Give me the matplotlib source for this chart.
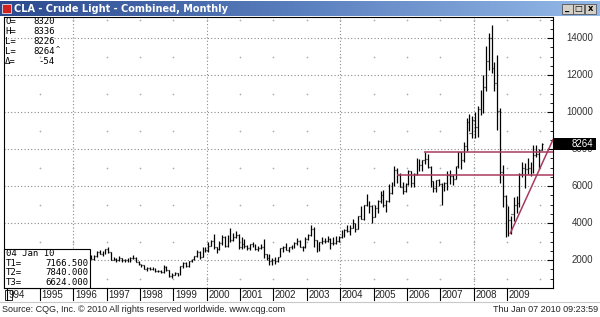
import matplotlib.pyplot as plt
import matplotlib.patches as patches
import numpy as np
import pandas as pd

# monthly OHLC, CLA continuation (price x100), Jan 1996 - Jan 2010
opens = [
    1955, 1774, 1954, 2147, 2120, 1976, 2092, 2042, 2225, 2438, 2335, 2375,
    2592, 2415, 2030, 2041, 2021, 2088, 1980, 2014, 1961, 2118, 2108, 1915,
    1764, 1721, 1544, 1561, 1539, 1520, 1418, 1421, 1334, 1614, 1442, 1122,
    1205, 1275, 1227, 1676, 1866, 1684, 1929, 2053, 2210, 2451, 2175, 2459,
    2560, 2764, 3043, 2690, 2574, 2901, 3250, 2743, 3312, 3084, 3270, 3382,
    2680, 2866, 2739, 2629, 2846, 2837, 2625, 2635, 2681, 2343, 2118, 1944,
    1984, 1948, 2174, 2631, 2729, 2531, 2686, 2702, 2898, 3045, 2722, 2689,
    3120, 3351, 3660, 3104, 2580, 2956, 3019, 3054, 3157, 2920, 2911, 3041,
    3252, 3305, 3616, 3576, 3738, 3988, 3705, 4380, 4212, 4964, 5176, 4913,
    4345, 4820, 5175, 5540, 4972, 5197, 5650, 6057, 6894, 6624, 5976, 5732,
    6104, 6792, 6141, 6663, 7188, 7129, 7393, 7440, 7026, 6291, 5873, 6313,
    6105, 5814, 6179, 6587, 6571, 6401, 7068, 7821, 7404, 8166, 9453, 8871,
    9598, 9175, 10184, 10158, 11346, 12735, 14000, 12408, 11546, 10064, 6781, 5443,
    4460, 4168, 4476, 4966, 5112, 6631, 6989, 6945, 6996, 7061, 7700, 7728,
    7936]
highs = [
    2010, 1990, 2250, 2540, 2290, 2150, 2290, 2270, 2480, 2555, 2485, 2600,
    2680, 2440, 2140, 2095, 2210, 2110, 2050, 2090, 2150, 2290, 2140, 1950,
    1800, 1760, 1640, 1650, 1600, 1560, 1480, 1440, 1720, 1680, 1490, 1310,
    1350, 1300, 1690, 1900, 1910, 1960, 2080, 2240, 2530, 2500, 2700, 2710,
    3000, 3110, 3420, 2730, 3050, 3340, 3280, 3350, 3740, 3440, 3560, 3400,
    3260, 3140, 2800, 2890, 2990, 2890, 2760, 2860, 3150, 2350, 2320, 2120,
    2140, 2190, 2650, 2765, 2930, 2700, 2810, 2990, 3200, 3060, 2760, 3230,
    3430, 3915, 3800, 3100, 2950, 3230, 3210, 3280, 3170, 3250, 3300, 3310,
    3630, 3690, 3900, 3900, 4238, 4000, 4400, 4940, 5000, 5545, 5200, 4990,
    4960, 5260, 5760, 5810, 5270, 6095, 6240, 7080, 6990, 6690, 6200, 6190,
    6895, 6820, 6700, 7500, 7440, 7430, 7830, 7735, 7090, 6280, 6320, 6372,
    6150, 6230, 6830, 6850, 6620, 7070, 7830, 7860, 8390, 9680, 9915, 9800,
    10000, 10320, 11172, 11993, 13582, 14300, 14727, 12700, 13092, 10240, 7150, 5500,
    4930, 4390, 5400, 5480, 6690, 7300, 7250, 7500, 7300, 8200, 8210, 8000,
    8336]
lows = [
    1730, 1760, 1900, 2110, 1870, 1900, 2040, 2030, 2180, 2330, 2240, 2330,
    2380, 2000, 1990, 1900, 1970, 1870, 1920, 1920, 1920, 2050, 1900, 1760,
    1620, 1530, 1400, 1470, 1450, 1330, 1380, 1280, 1320, 1420, 1080, 1040,
    1170, 1140, 1200, 1580, 1640, 1650, 1890, 1980, 2140, 2060, 2150, 2410,
    2440, 2740, 2610, 2400, 2540, 2820, 2730, 2700, 3000, 3010, 3210, 2580,
    2620, 2650, 2520, 2540, 2690, 2560, 2500, 2620, 2130, 2000, 1750, 1760,
    1800, 1890, 2140, 2430, 2530, 2460, 2600, 2650, 2840, 2690, 2500, 2650,
    3060, 3280, 2720, 2460, 2480, 2860, 2930, 3000, 2600, 2830, 2880, 2950,
    3200, 3250, 3500, 3370, 3740, 3540, 3690, 4210, 4190, 4940, 4520, 4020,
    4320, 4530, 5110, 4890, 4625, 5150, 5580, 6010, 6190, 5930, 5570, 5700,
    6050, 5930, 5950, 6580, 6810, 6840, 7200, 6990, 5950, 5655, 5700, 5993,
    4995, 5710, 5810, 6100, 6080, 6400, 6980, 6900, 7300, 7910, 8970, 8600,
    8611, 8670, 9842, 9940, 11120, 12280, 12116, 11154, 9040, 6160, 4876, 3240,
    3320, 3420, 4120, 4530, 4880, 6500, 5905, 6670, 6570, 6730, 7560, 6950,
    7930]
closes = [
    1774, 1954, 2147, 2120, 1976, 2092, 2042, 2225, 2438, 2335, 2375, 2592,
    2415, 2030, 2041, 2021, 2088, 1980, 2014, 1961, 2118, 2108, 1915, 1764,
    1721, 1544, 1561, 1539, 1520, 1418, 1421, 1334, 1614, 1442, 1122, 1205,
    1275, 1227, 1676, 1866, 1684, 1929, 2053, 2210, 2451, 2175, 2459, 2560,
    2764, 3043, 2690, 2574, 2901, 3250, 2743, 3312, 3084, 3270, 3382, 2680,
    2866, 2739, 2629, 2846, 2837, 2625, 2635, 2681, 2343, 2118, 1944, 1984,
    1948, 2174, 2631, 2729, 2531, 2686, 2702, 2898, 3045, 2722, 2689, 3120,
    3351, 3660, 3104, 2580, 2956, 3019, 3054, 3157, 2920, 2911, 3041, 3252,
    3305, 3616, 3576, 3738, 3988, 3705, 4380, 4212, 4964, 5176, 4913, 4345,
    4820, 5175, 5540, 4972, 5197, 5650, 6057, 6894, 6624, 5976, 5732, 6104,
    6792, 6141, 6663, 7188, 7129, 7393, 7440, 7026, 6291, 5873, 6313, 6105,
    5814, 6179, 6587, 6571, 6401, 7068, 7821, 7404, 8166, 9453, 8871, 9598,
    9175, 10184, 10158, 11346, 12735, 14000, 12408, 11546, 10064, 6781, 5443, 4460,
    4168, 4476, 4966, 5112, 6631, 6989, 6945, 6996, 7061, 7700, 7728, 7936,
    8264]

year_labels = [str(y) for y in range(1994, 2010)]
price_ticks = [2000, 4000, 6000, 8000, 10000, 12000, 14000]
info_labels = ["O=", "H=", "L=", "L=", "\u0394="]
info_values = ["8320", "8336", "8226", "8264\u02c4", "-54"]
study_date = "04 Jan 10"
t_labels = ["T1=", "T2=", "T3="]
t_values = [7166.5, 7840.0, 6624.0]
# trend line anchor points (decimal year, price)
trend_x = [2009.10, 2010.04]
trend_y = [3450, 7166.5]
t2_start = 2006.50
t3_start = 2005.70

W, H = 600, 317
fig = plt.figure(figsize=(W / 100, H / 100), dpi=100)
fig.patch.set_facecolor("white")


def fx(x):
    return x / W


def fy(y):
    return 1 - y / H


RED = "#a83a5c"
GRID = "#8a8a8a"

# ---- main price panel
x0, x1, y0, y1 = 4, 553, 17, 288
ax = fig.add_axes([fx(x0), fy(y1), fx(x1 - x0), (y1 - y0) / H])
ax.set_xlim(1993.92, 2010.38)
ax.set_ylim(490, 15140)
ax.set_facecolor("white")

dates = pd.date_range("1996-01-01", periods=len(closes), freq="MS")
xs = dates.year + (dates.month - 0.5) / 12
w = 0.3 / 12

# grid
for p in price_ticks:
    ax.axhline(p, color=GRID, lw=0.8, ls=(0, (1, 2)), zorder=1)
for yr in [1996, 2000, 2004, 2008]:
    ax.axvline(yr, color=GRID, lw=0.8, ls=(0, (1, 2)), zorder=1)
gx, gy = np.meshgrid(np.arange(1995, 2011), np.arange(1000, 16000, 2000))
ax.scatter(gx.ravel(), gy.ravel(), marker="+", s=4, lw=0.5, color="#b0b0b0", zorder=1)

# bars
ax.vlines(xs, lows, highs, color="black", lw=0.9, zorder=3)
ax.hlines(opens, xs - w, xs, color="black", lw=0.9, zorder=3)
ax.hlines(closes, xs, xs + w, color="black", lw=0.9, zorder=3)

# study lines
ax.hlines(t_values[1], t2_start, 2010.38, color=RED, lw=1.1, zorder=4)
ax.hlines(t_values[2], t3_start, 2010.38, color=RED, lw=1.1, zorder=4)
slope = (trend_y[1] - trend_y[0]) / (trend_x[1] - trend_x[0])
ax.plot([trend_x[0], 2010.38], [trend_y[0], trend_y[0] + slope * (2010.38 - trend_x[0])],
        color=RED, lw=1.1, zorder=4)

ax.set_xticks([])
ax.yaxis.tick_right()
ax.set_yticks(price_ticks)
ax.set_yticks(np.arange(1000, 15001, 500), minor=True)
ax.tick_params(axis="y", which="major", direction="in", length=4, labelright=False, width=0.8)
ax.tick_params(axis="y", which="minor", direction="in", length=2, width=0.6)
for s in ax.spines.values():
    s.set_linewidth(0.8)

# top-left info block
mono = "DejaVu Sans Mono"
for i, (lab, val) in enumerate(zip(info_labels, info_values)):
    yy = 21 + i * 10
    fig.text(fx(5), fy(yy), lab, fontsize=6.5, family=mono, va="center", ha="left")
    if val.endswith("\u02c4"):
        fig.text(fx(55), fy(yy), val[:-1], fontsize=6.5, family=mono, va="center", ha="right")
        fig.text(fx(56), fy(yy - 2), "^", fontsize=5, family=mono, va="center", ha="left")
    else:
        fig.text(fx(55), fy(yy), val, fontsize=6.5, family=mono, va="center", ha="right")

# bottom-left study box
fig.patches.append(patches.Rectangle((fx(4), fy(288)), fx(86), (288 - 249) / H,
                                     transform=fig.transFigure, facecolor="white",
                                     edgecolor="black", lw=0.8, zorder=5))
fig.text(fx(6), fy(254), study_date, fontsize=6.5, family=mono, va="center", zorder=6)
for i, (lab, val) in enumerate(zip(t_labels, t_values)):
    yy = 263 + i * 9.7
    fig.text(fx(6), fy(yy), lab, fontsize=6.5, family=mono, va="center", zorder=6)
    fig.text(fx(88), fy(yy), f"{val:.3f}", fontsize=6.5, family=mono, va="center",
             ha="right", zorder=6)

# x axis labels
sans = "Liberation Sans"
for i, lab in enumerate(year_labels):
    yr = 1994 + i
    xp = x0 + (yr - 1993.92) / (2010.38 - 1993.92) * (x1 - x0)
    fig.add_artist(plt.Line2D([fx(xp), fx(xp)], [fy(288), fy(300)], color="black", lw=0.8))
    t = lab if yr > 1994 else "994"
    fig.text(fx(xp + 1.5), fy(295), t, fontsize=7, family=sans, va="center", ha="left",
             color="#222222")
fig.patches.append(patches.Rectangle((fx(5), fy(300)), fx(7), 10 / H, transform=fig.transFigure,
                                     facecolor="none", edgecolor="black", lw=0.6))

# y labels on the right
for p in price_ticks:
    yp = y1 - (p - 490) / (15140 - 490) * (y1 - y0)
    fig.text(fx(593), fy(yp), str(p), fontsize=7, family=sans, va="center", ha="right",
             color="#333333")
yp = y1 - (closes[-1] - 490) / (15140 - 490) * (y1 - y0)
fig.patches.append(patches.Rectangle((fx(554), fy(yp + 6)), fx(42), 12 / H,
                                     transform=fig.transFigure, facecolor="black", zorder=5))
fig.text(fx(593), fy(yp), str(closes[-1]), fontsize=7, family=sans, va="center", ha="right",
         color="white", zorder=6)

# title bar
tb = fig.add_axes([0, fy(16), 1, 15 / H])
grad = np.linspace(0, 1, 256)[None, :]
from matplotlib.colors import LinearSegmentedColormap
cm = LinearSegmentedColormap.from_list("tb", ["#2b4a8e", "#5a7fbe", "#94b9e8"])
tb.imshow(grad, aspect="auto", cmap=cm, extent=[0, W, 0, 15])
tb.set_xlim(0, W)
tb.set_ylim(0, 15)
tb.axis("off")
tb.add_patch(patches.Rectangle((2, 3), 9, 9, facecolor="#d02020", edgecolor="white", lw=0.5))
tb.text(14, 7.5, "CLA - Crude Light - Combined, Monthly", fontsize=7, fontweight="bold",
        color="white", va="center", ha="left", family="DejaVu Sans")
for bx, sym in zip([562, 573, 585], ["_", "\u25a1", "x"]):
    tb.add_patch(patches.Rectangle((bx, 2.5), 10.5, 10, facecolor="#d4d0c8",
                                   edgecolor="#404040", lw=0.5))
    tb.text(bx + 5.2, 7.5, sym, fontsize=6, fontweight="bold", va="center", ha="center")

# status bar
fig.add_artist(plt.Line2D([0, 1], [fy(302), fy(302)], color="#c8c8c8", lw=0.8))
fig.text(fx(2), fy(310), "Source: CQG, Inc. \u00a9 2010 All rights reserved worldwide. www.cqg.com",
         fontsize=6.5, family=sans, va="center", ha="left", color="#222222")
fig.text(fx(598), fy(310), "Thu Jan 07 2010 09:23:59", fontsize=6.5, family=sans,
         va="center", ha="right", color="#222222")

fig.savefig("out.png", dpi=100, facecolor=fig.get_facecolor())
